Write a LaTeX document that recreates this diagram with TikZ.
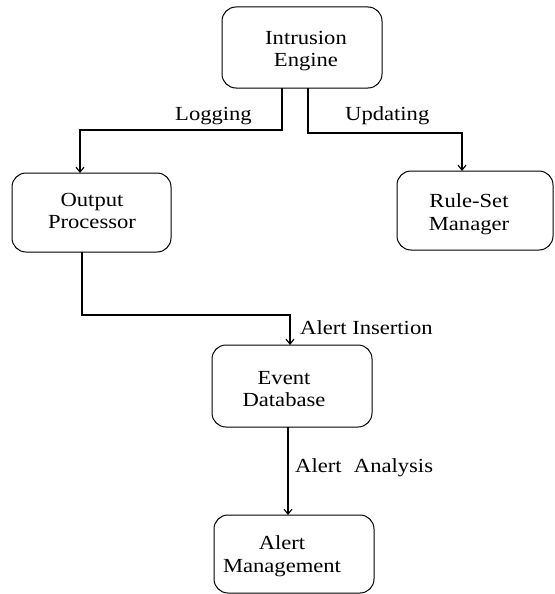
\documentclass[tikz,border=0pt]{standalone}
\usepackage{fontspec}
\setmainfont[FakeStretch=1.13]{Liberation Serif}
\usetikzlibrary{arrows.meta}
\begin{document}
\begin{tikzpicture}[x=1pt,y=-1pt,
  box/.style={draw, line width=1pt, rounded corners=14pt},
  lbl/.style={inner sep=0pt, align=center, font=\fontsize{20}{22.5}\selectfont},
  conn/.style={line width=1.1pt},
  arr/.style={conn, -{Straight Barb[length=5pt,width=8pt]}}]
\useasboundingbox (0,0) rectangle (554,594);
% boxes
\draw[box] (222,7) rectangle (382,88);
\draw[box] (12,173) rectangle (171,252);
\draw[box] (397,171) rectangle (553,250);
\draw[box] (212,345) rectangle (372,427);
\draw[box] (214,515) rectangle (374,593);
% named anchor coordinates
\coordinate (ieL) at (282,88);
\coordinate (ieR) at (308,88);
\coordinate (opT) at (80,173);
\coordinate (rsT) at (462,171);
\coordinate (opB) at (82,252);
\coordinate (edT) at (290,345);
\coordinate (edB) at (288,427);
\coordinate (amT) at (288,515);
% texts
\node[lbl] (ie) at (306,51) {Intrusion\\Engine};
\node[lbl] (op) at (92,211) {Output\\Processor};
\node[lbl] (rs) at (469,214) {Rule-Set\\Manager};
\node[lbl] (ed) at (284,389) {Event\\Database};
\node[lbl] (am) at (282,556) {Alert\\Management};
\node[lbl, anchor=west] (lg) at (175,116) {Logging};
\node[lbl, anchor=west] (up) at (345,116) {Updating};
\node[lbl, anchor=west] (ai) at (300,328) {Alert Insertion};
\node[lbl, anchor=west] (aa) at (295,468) {Alert\,\, Analysis};
% connectors
\draw[arr] (ieL) |- (80,130) -- (opT);
\draw[arr] (ieR) |- (462,133) -- (rsT);
\draw[arr] (opB) |- (290,315) -- (edT);
\draw[arr] (edB) -- (amT);
\end{tikzpicture}
\end{document}
